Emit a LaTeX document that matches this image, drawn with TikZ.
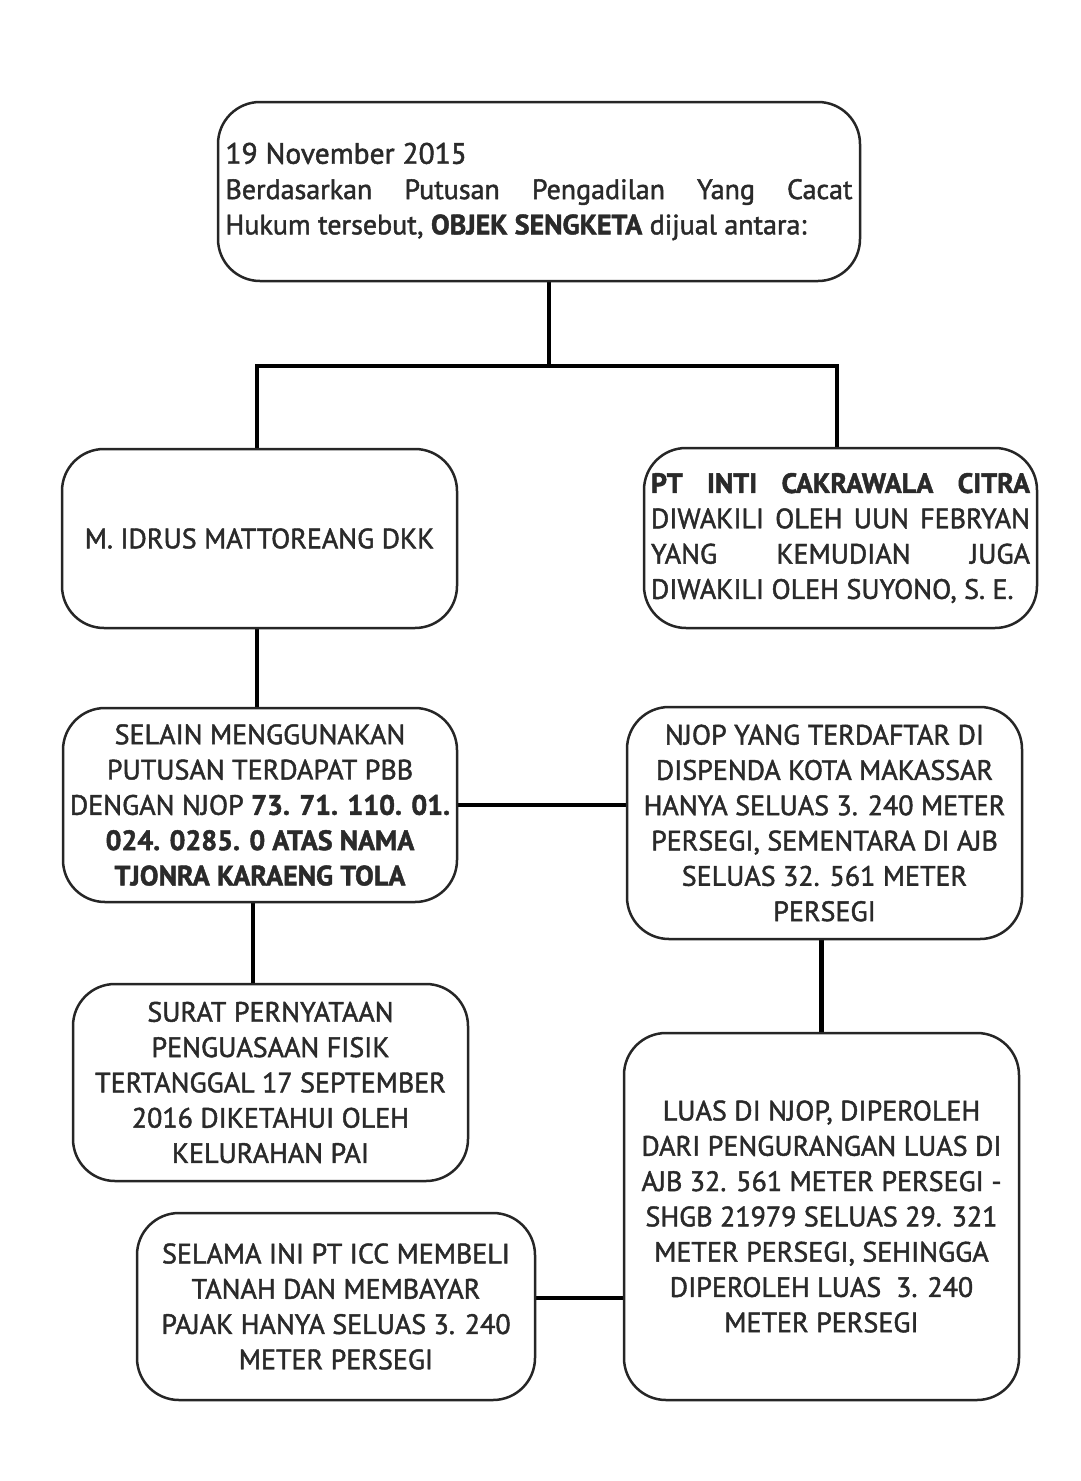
\documentclass[tikz,border=0pt]{standalone}
\usepackage{fontspec}
\setmainfont[FakeBold=1.6]{PT Sans}
\usetikzlibrary{backgrounds}
\definecolor{txt}{HTML}{2a2a2a}
\tikzset{
  box/.style={draw=black!85, line width=2.5pt, rounded corners=42pt, fill=white,
    align=center, text=txt, font=\fontsize{28}{35.3}\selectfont, inner sep=0pt},
  link/.style={draw=black, line width=4.5pt},
}
\begin{document}
\begin{tikzpicture}[x=1pt,y=-1pt]
\useasboundingbox (0,0) rectangle (1080,1481);

\node[box, minimum width=642pt, minimum height=179pt] (top) at (539,191.5)
 {\fontsize{29.5}{35.3}\selectfont
  \makebox[627pt][l]{19 November 2015}\\
  \makebox[627pt][s]{Berdasarkan Putusan Pengadilan Yang Cacat}\\
  \makebox[627pt][l]{Hukum tersebut, \textbf{OBJEK SENGKETA} dijual antara:}};

\node[box, minimum width=395pt, minimum height=179pt] (idrus) at (259.5,538.5)
 {M. IDRUS MATTOREANG DKK};

\node[box, minimum width=393pt, minimum height=180pt] (pt) at (840.5,538)
 {\makebox[379pt][s]{\textbf{PT INTI CAKRAWALA CITRA}}\\
  \makebox[379pt][s]{DIWAKILI OLEH UUN FEBRYAN}\\
  \makebox[379pt][s]{YANG KEMUDIAN JUGA}\\
  \makebox[379pt][l]{DIWAKILI OLEH SUYONO, S. E.}};

\node[box, minimum width=394pt, minimum height=194pt] (selain) at (260,805)
 {SELAIN MENGGUNAKAN\\
  PUTUSAN TERDAPAT PBB\\
  DENGAN NJOP \textbf{73. 71. 110. 01.}\\
  \textbf{024. 0285. 0 ATAS NAMA}\\
  \textbf{TJONRA KARAENG TOLA}};

\node[box, minimum width=395pt, minimum height=232pt] (njop) at (824.5,823)
 {NJOP YANG TERDAFTAR DI\\
  DISPENDA KOTA MAKASSAR\\
  HANYA SELUAS 3. 240 METER\\
  PERSEGI, SEMENTARA DI AJB\\
  SELUAS 32. 561 METER\\
  PERSEGI};

\node[box, minimum width=395pt, minimum height=197pt] (surat) at (270.5,1082.5)
 {SURAT PERNYATAAN\\
  PENGUASAAN FISIK\\
  TERTANGGAL 17 SEPTEMBER\\
  2016 DIKETAHUI OLEH\\
  KELURAHAN PAI};

\node[box, minimum width=395pt, minimum height=367pt] (luas) at (821.5,1216.5)
 {LUAS DI NJOP, DIPEROLEH\\
  DARI PENGURANGAN LUAS DI\\
  AJB 32. 561 METER PERSEGI -\\
  SHGB 21979 SELUAS 29. 321\\
  METER PERSEGI, SEHINGGA\\
  DIPEROLEH LUAS\ \ 3. 240\\
  METER PERSEGI};

\node[box, minimum width=398pt, minimum height=187pt] (selama) at (336,1306.5)
 {SELAMA INI PT ICC MEMBELI\\
  TANAH DAN MEMBAYAR\\
  PAJAK HANYA SELUAS 3. 240\\
  METER PERSEGI};

\coordinate (jc) at (549,366);
\coordinate (jl) at (257,366);
\coordinate (jr) at (837,366);
\coordinate (xs) at (253,0);

\begin{scope}[on background layer]
\draw[link] (top.south -| jc) -- (jc);
\draw[link, line cap=rect] (jl) -- (jr);
\draw[link] (jl) -- (idrus.north -| jl);
\draw[link] (jr) -- (pt.north -| jr);
\draw[link] (idrus.south -| jl) -- (selain.north -| jl);
\draw[link] (selain.south -| xs) -- (surat.north -| xs);
\draw[link] (selain.east) -- (njop.west |- selain.east);
\draw[link] (njop.south -| luas.north) -- (luas.north);
\draw[link] (selama.east |- 0,1298) -- (luas.west |- 0,1298);
\end{scope}
\end{tikzpicture}
\end{document}
